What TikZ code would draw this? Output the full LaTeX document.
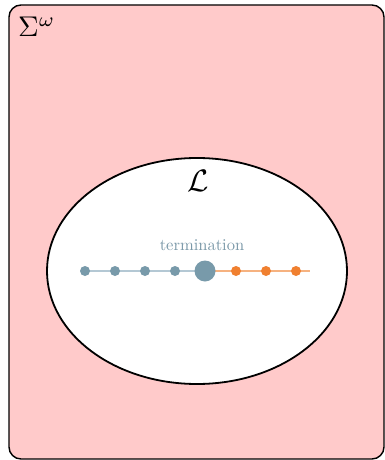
\RequirePackage{fix-cm}
\documentclass[tikz,border=0pt]{standalone}
\usetikzlibrary{shapes.geometric}
\begin{document}
\begin{tikzpicture}[x=1pt,y=-1pt,
  bluedot/.style={circle,fill=dotblue,inner sep=0pt,minimum size=10pt},
  bigdot/.style={circle,fill=dotblue,inner sep=0pt,minimum size=21pt},
  orangedot/.style={circle,fill=dotorange,inner sep=0pt,minimum size=10pt},
  blueline/.style={draw=lineblue,line width=2pt},
  orangeline/.style={draw=lineorange,line width=2pt}]
\definecolor{pinkbg}{RGB}{255,202,202}
\definecolor{dotblue}{RGB}{120,154,170}
\definecolor{lineblue}{RGB}{180,200,212}
\definecolor{dotorange}{RGB}{240,128,48}
\definecolor{lineorange}{RGB}{246,178,128}
\definecolor{labelblue}{RGB}{122,152,168}
\useasboundingbox (0,0) rectangle (385,460);
\clip (0,0) rectangle (385,460);
\draw[fill=pinkbg,line width=1.4pt,rounded corners=12pt] (9,5) rectangle (384,459);
\node[draw,fill=white,ellipse,line width=1.8pt,minimum width=300pt,minimum height=226pt,inner sep=0pt] (L) at (197,271) {};
\node[anchor=north west,inner sep=0pt] (S) at (18,17) {\scalebox{2.85}{$\Sigma^{\omega}$}};
\node (Ll) at (198,181) {\scalebox{3.1}{$\mathcal{L}$}};
\node[text=labelblue] (t) at (202,245) {\scalebox{1.65}{termination}};
\coordinate (d1) at (85,271);
\coordinate (d5) at (205,271);
\coordinate (e) at (310,271);
\path[blueline] (d1) -- (d5);
\path[orangeline] (d5) -- (e);
\node[bluedot] (n1) at (d1) {};
\node[bluedot] (n2) at (115,271) {};
\node[bluedot] (n3) at (145,271) {};
\node[bluedot] (n4) at (175,271) {};
\node[bigdot] (n5) at (d5) {};
\node[orangedot] (n6) at (236,271) {};
\node[orangedot] (n7) at (266,271) {};
\node[orangedot] (n8) at (296,271) {};
\end{tikzpicture}
\end{document}
